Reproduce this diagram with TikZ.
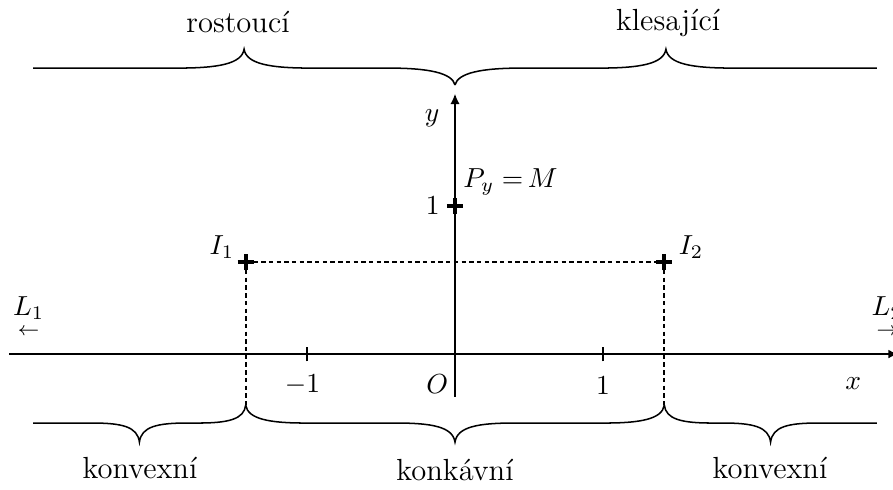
\documentclass[tikz,border=0pt]{standalone}
\usepackage{amsfonts, amssymb, amsmath}
\usepackage{tikz}
\usetikzlibrary{arrows.meta, calc}

\begin{document}
\begin{tikzpicture}[x=1.89cm, y=1.89cm,
    axis/.style={line width=0.75pt},
    crossmark/.style={line width=1.4pt},
    help/.style={line width=0.7pt, dash pattern=on 1.6pt off 1.2pt},
    brace/.style={line width=0.55pt},
    txt/.style={font=\fontsize{11.1}{13}\selectfont}]
    \useasboundingbox (-3.074, -0.912) rectangle (2.959, 2.392);

    % Axes
    \coordinate (xs) at (-3.01, 0);
    \coordinate (xe) at (2.995, 0);
    \coordinate (ys) at (0, -0.29);
    \coordinate (ye) at (0, 1.76);
    \draw[axis, -{Latex[length=3.6pt, width=3.2pt]}] (xs) -- (xe);
    \draw[axis, -{Latex[length=3.8pt, width=3.4pt]}] (ys) -- (ye);
    \node (xlab) at (2.69, -0.2) {$x$};
    \node (ylab) at (-0.155, 1.595) {$y$};
    \node (O) at (-0.12, -0.2) {$O$};

    % Ticks on x
    \draw[axis] (-1, -0.05) -- (-1, 0.05);
    \draw[axis] (1, -0.05) -- (1, 0.05);
    \node (m1) at (-1.03, -0.21) {$-1$};
    \node (p1) at (1, -0.21) {$1$};

    % Limits at infinity
    \node[anchor=south] (L1) at (-2.88, 0.04) {$\underset{\leftarrow}{L_1}$};
    \node[anchor=south] (L2) at (2.92, 0.04) {$\underset{\rightarrow}{L_2}$};

    % Maximum on the y axis
    \coordinate (Py) at (0, 1);
    \draw[crossmark] ($(Py)+(-0.055,0)$) -- ($(Py)+(0.055,0)$);
    \draw[crossmark] ($(Py)+(0,-0.055)$) -- ($(Py)+(0,0.055)$);
    \node (one) at (-0.15, 1) {$1$};
    \node (PyM) at (0.375, 1.16) {$P_y\;{=}\,M$};

    % Inflection points
    \coordinate (I1) at (-1.414, 0.62);
    \coordinate (I2) at (1.414, 0.62);
    \foreach \p in {I1, I2} {
        \draw[crossmark] ($(\p)+(-0.055,0)$) -- ($(\p)+(0.055,0)$);
        \draw[crossmark] ($(\p)+(0,-0.055)$) -- ($(\p)+(0,0.055)$);
    }
    \node (I1lab) at (-1.575, 0.72) {$I_1$};
    \node (I2lab) at (1.595, 0.72) {$I_2$};

    % Dashed guides down to the braces
    \coordinate (C1) at (-1.414, -0.345);
    \coordinate (C2) at (1.414, -0.345);
    \draw[help] (I1) -- (I2);
    \draw[help] (I1) -- (C1);
    \draw[help] (I2) -- (C2);

    % Monotonicity braces
    \draw[brace] (-2.85,1.932) -- (-1.875,1.932) .. controls (-1.6,1.932) and (-1.44,1.96) .. (-1.425,2.06)
        .. controls (-1.41,1.96) and (-1.25,1.932) .. (-0.975,1.932) -- (-0.45,1.932)
        .. controls (-0.18,1.932) and (-0.02,1.9) .. (0,1.818);
    \draw[brace] (0,1.818) .. controls (0.02,1.9) and (0.18,1.932) .. (0.45,1.932) -- (0.975,1.932)
        .. controls (1.25,1.932) and (1.41,1.96) .. (1.425,2.06)
        .. controls (1.44,1.96) and (1.6,1.932) .. (1.875,1.932) -- (2.85,1.932);
    \node[txt] (rost) at (-1.466, 2.24) {rostoucí};
    \node[txt] (kles) at (1.44, 2.24) {klesající};

    % Convexity braces
    \draw[brace] (-2.85,-0.466) -- (-2.452,-0.466) .. controls (-2.25,-0.466) and (-2.145,-0.49) .. (-2.132,-0.595)
        .. controls (-2.12,-0.49) and (-2.01,-0.466) .. (-1.812,-0.466) -- (-1.734,-0.466)
        .. controls (-1.53,-0.466) and (-1.425,-0.44) .. (C1);
    \draw[brace] (C1) .. controls (-1.40,-0.44) and (-1.25,-0.466) .. (-1.014,-0.466) -- (-0.4,-0.466)
        .. controls (-0.16,-0.466) and (-0.015,-0.49) .. (0,-0.595)
        .. controls (0.015,-0.49) and (0.16,-0.466) .. (0.4,-0.466) -- (1.014,-0.466)
        .. controls (1.25,-0.466) and (1.40,-0.44) .. (C2);
    \draw[brace] (C2) .. controls (1.425,-0.44) and (1.53,-0.466) .. (1.734,-0.466) -- (1.812,-0.466)
        .. controls (2.01,-0.466) and (2.12,-0.49) .. (2.132,-0.595)
        .. controls (2.145,-0.49) and (2.25,-0.466) .. (2.452,-0.466) -- (2.85,-0.466);
    \node[txt] (konv1) at (-2.128, -0.77) {konvexní};
    \node[txt] (konk) at (0, -0.784) {konkávní};
    \node[txt] (konv2) at (2.128, -0.77) {konvexní};
\end{tikzpicture}
\end{document}
